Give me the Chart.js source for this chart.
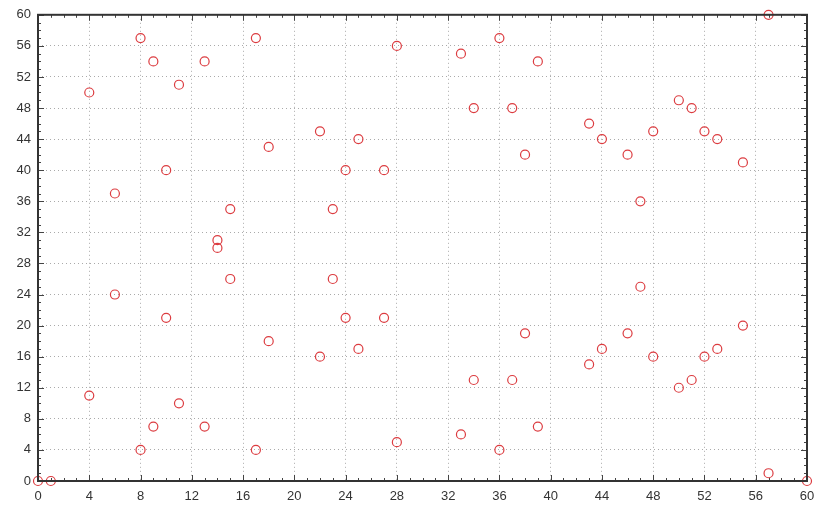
<!DOCTYPE html>
<html>
<head>
<meta charset="utf-8">
<script src="https://cdn.jsdelivr.net/npm/chart.js@4/dist/chart.umd.min.js"></script>
<style>
  html, body { margin: 0; padding: 0; background: #fff; }
  #wrap { width: 828px; height: 512px; }
</style>
</head>
<body>
<div id="wrap"><canvas id="scatter"></canvas></div>
<script>
var xValues = [0, 1, 4, 4, 6, 6, 8, 8, 9, 9, 10, 10, 11, 11, 13, 13, 14, 14, 15, 15,
  17, 17, 18, 18, 22, 22, 23, 23, 24, 24, 25, 25, 27, 27, 28, 28, 33, 33, 34, 34,
  36, 36, 37, 37, 38, 38, 39, 39, 43, 43, 44, 44, 46, 46, 47, 47, 48, 48, 50, 50,
  51, 51, 52, 52, 53, 53, 55, 55, 57, 57, 60];
var yValues = [0, 0, 50, 11, 37, 24, 57, 4, 54, 7, 40, 21, 51, 10, 54, 7, 31, 30, 35, 26,
  57, 4, 43, 18, 45, 16, 35, 26, 40, 21, 44, 17, 40, 21, 56, 5, 55, 6, 48, 13,
  57, 4, 48, 13, 42, 19, 54, 7, 46, 15, 44, 17, 42, 19, 36, 25, 45, 16, 49, 12,
  48, 13, 45, 16, 44, 17, 41, 20, 60, 1, 0];
var axisMin = 0;
var axisMax = 60;
var majorStep = 4;

var points = xValues.map(function (x, i) { return {x: x, y: yValues[i]}; });

// frame round the plot plus small inward ticks on all four sides
var frameTicks = {
  id: "frameTicks",
  afterDraw: function (chart) {
    var ctx = chart.ctx;
    var a = chart.chartArea;
    var sx = chart.scales.x, sy = chart.scales.y;
    ctx.save();
    ctx.strokeStyle = "#444";
    ctx.lineWidth = 1;
    ctx.beginPath();
    for (var v = axisMin; v <= axisMax; v++) {
      var len = v % majorStep === 0 ? 6 : 3;
      var px = Math.round(sx.getPixelForValue(v)) + 0.5;
      ctx.moveTo(px, a.bottom); ctx.lineTo(px, a.bottom - len);
      ctx.moveTo(px, a.top); ctx.lineTo(px, a.top + len);
      var py = Math.round(sy.getPixelForValue(v)) + 0.5;
      ctx.moveTo(a.left, py); ctx.lineTo(a.left + len, py);
      ctx.moveTo(a.right, py); ctx.lineTo(a.right - len, py);
    }
    ctx.stroke();
    ctx.lineWidth = 2;
    ctx.strokeStyle = "#333";
    ctx.strokeRect(a.left, a.top, a.right - a.left, a.bottom - a.top);
    ctx.restore();
  }
};

new Chart("scatter", {
  type: "scatter",
  data: {
    datasets: [{
      data: points,
      pointStyle: "circle",
      pointRadius: 4.5,
      pointHoverRadius: 4.5,
      pointBorderWidth: 1.2,
      pointBorderColor: "#dc3c40",
      pointBackgroundColor: "rgba(0,0,0,0)",
      clip: false
    }]
  },
  options: {
    responsive: true,
    maintainAspectRatio: false,
    animation: false,
    events: [],
    layout: {padding: {top: 14, right: 21, left: 0, bottom: 0}},
    plugins: {legend: {display: false}, tooltip: {enabled: false}},
    scales: {
      x: {
        type: "linear",
        min: axisMin,
        max: axisMax,
        afterFit: function (s) { s.height = 31; },
        ticks: {stepSize: majorStep, color: "#333", padding: 8, maxRotation: 0,
          font: {family: "Liberation Sans", size: 13}},
        grid: {color: "#aaa", lineWidth: 1, drawTicks: false},
        border: {display: false, dash: [1, 3]}
      },
      y: {
        type: "linear",
        min: axisMin,
        max: axisMax,
        afterFit: function (s) { s.width = 38; },
        ticks: {stepSize: majorStep, color: "#333", padding: 7,
          font: {family: "Liberation Sans", size: 13}},
        grid: {color: "#aaa", lineWidth: 1, drawTicks: false},
        border: {display: false, dash: [1, 3]}
      }
    }
  },
  plugins: [frameTicks]
});
</script>
</body>
</html>
